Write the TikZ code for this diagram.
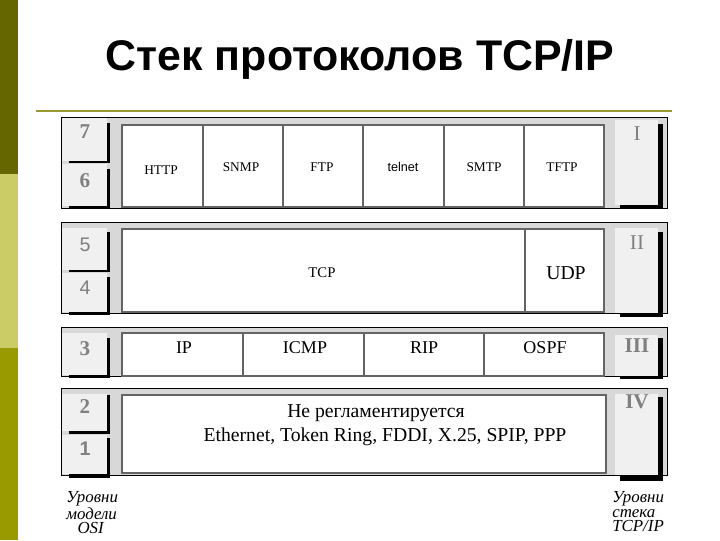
\documentclass[tikz,border=0pt]{standalone}
\usepackage{fontspec}
\setmainfont{Liberation Serif}
\newfontfamily\sansfont{Liberation Sans}
\definecolor{barA}{RGB}{102,102,0}
\definecolor{barB}{RGB}{204,204,102}
\definecolor{barC}{RGB}{153,153,0}
\definecolor{rulecol}{RGB}{153,153,51}
\definecolor{blockgray}{RGB}{216,216,216}
\definecolor{cellgray}{RGB}{240,240,240}
\definecolor{numgray}{RGB}{128,128,128}
\definecolor{protoline}{RGB}{100,100,100}

\begin{document}
\begin{tikzpicture}[x=0.025cm,y=-0.025cm]
		\tikzstyle{every node}+=[inner sep=0pt]
		\tikzstyle{blockbox}=[fill=blockgray,draw=black,line width=0.7pt]
		\tikzstyle{numcell}=[fill=cellgray]
		\tikzstyle{dropbar}=[fill=black]
		\tikzstyle{protobox}=[fill=white,draw=protoline,line width=1.1pt]
		\tikzstyle{numtext}=[text=numgray,font=\fontsize{15}{15}\selectfont\bfseries]
		\tikzstyle{numsans}=[text=numgray,font=\sansfont\fontsize{14}{14}\selectfont]
		\tikzstyle{romantext}=[text=numgray,font=\fontsize{15}{15}\selectfont]
		\tikzstyle{smalllbl}=[font=\fontsize{9.5}{10}\selectfont]
		\tikzstyle{midlbl}=[font=\fontsize{12.8}{13}\selectfont]
		\tikzstyle{biglbl}=[font=\fontsize{14}{14}\selectfont]
		\tikzstyle{footlbl}=[font=\itshape\fontsize{12}{10.5}\selectfont,align=left,anchor=north west]
		\useasboundingbox (0,0) rectangle (720,540);
		\fill [white] (0,0) rectangle (720,540);
		\fill [barA] (0,0) rectangle (18,174);
		\fill [barB] (0,174) rectangle (18,348);
		\fill [barC] (0,348) rectangle (18,540);
		\node [font=\sansfont\bfseries\fontsize{30.5}{32}\selectfont,anchor=base] (title) at (360,70) {Стек протоколов TCP/IP};
		\draw [rulecol,line width=1.8pt] (36,111) -- (672,111);
		\draw [blockbox] (61,117) rectangle (667,208);
		\fill [dropbar] (69,123) rectangle (110,163);
		\fill [numcell] (62,118) rectangle (107,161);
		\fill [dropbar] (69,169) rectangle (110,209);
		\fill [numcell] (62,164) rectangle (107,206);
		\fill [dropbar] (620,124) rectangle (663,208);
		\fill [numcell] (615,120) rectangle (658,205);
		\draw [protobox] (122,125) rectangle (203,207);
		\draw [protobox] (203,125) rectangle (283,207);
		\draw [protobox] (283,125) rectangle (363,207);
		\draw [protobox] (363,125) rectangle (444,207);
		\draw [protobox] (444,125) rectangle (524,207);
		\draw [protobox] (524,125) rectangle (604,207);
		\node [numtext] (n7) at (85,132) {7};
		\node [numtext] (n6) at (85,181) {6};
		\node [romantext] (r1) at (637,134) {I};
		\node [smalllbl] (http) at (161,170) {HTTP};
		\node [smalllbl] (snmp) at (241,167) {SNMP};
		\node [smalllbl] (ftp) at (322,167) {FTP};
		\node [smalllbl,font=\sansfont\fontsize{9}{10}\selectfont] (telnet) at (403,167) {telnet};
		\node [smalllbl] (smtp) at (484,167) {SMTP};
		\node [smalllbl] (tftp) at (562,167) {TFTP};
		\draw [blockbox] (61,222) rectangle (667,313);
		\fill [dropbar] (69,232) rectangle (110,272);
		\fill [numcell] (62,228) rectangle (107,270);
		\fill [dropbar] (69,277) rectangle (110,315);
		\fill [numcell] (62,273) rectangle (107,312);
		\fill [dropbar] (620,232) rectangle (663,317);
		\fill [numcell] (615,228) rectangle (658,313);
		\draw [protobox] (122,229) rectangle (525,312);
		\draw [protobox] (525,229) rectangle (604,312);
		\node [numsans] (n5) at (85,245) {5};
		\node [numsans] (n4) at (85,288) {4};
		\node [romantext] (r2) at (637,243) {II};
		\node [font=\fontsize{10.5}{11}\selectfont] (tcp) at (322,273) {TCP};
		\node [biglbl] (udp) at (566,273) {UDP};
		\draw [blockbox] (61,327) rectangle (667,376);
		\fill [dropbar] (69,338) rectangle (110,378);
		\fill [numcell] (62,333) rectangle (107,375);
		\fill [dropbar] (620,338) rectangle (663,379);
		\fill [numcell] (615,335) rectangle (658,376);
		\draw [protobox] (122,333) rectangle (243,376);
		\draw [protobox] (243,333) rectangle (364,376);
		\draw [protobox] (364,333) rectangle (484,376);
		\draw [protobox] (484,333) rectangle (604,376);
		\node [numtext] (n3) at (85,349) {3};
		\node [romantext,font=\bfseries\fontsize{15}{15}\selectfont] (r3) at (637,346) {III};
		\node [midlbl] (ip) at (184,348) {IP};
		\node [midlbl] (icmp) at (305,348) {ICMP};
		\node [midlbl] (rip) at (424,348) {RIP};
		\node [midlbl] (ospf) at (545,348) {OSPF};
		\draw [blockbox] (61,388) rectangle (667,475);
		\fill [dropbar] (69,395) rectangle (110,434);
		\fill [numcell] (62,394) rectangle (107,431);
		\fill [dropbar] (69,438) rectangle (110,478);
		\fill [numcell] (62,435) rectangle (107,474);
		\fill [dropbar] (620,397) rectangle (663,481);
		\fill [numcell] (615,394) rectangle (658,475);
		\draw [protobox] (122,395) rectangle (606,473);
		\node [numtext] (n2) at (85,407) {2};
		\node [numsans,font=\sansfont\bfseries\fontsize{14}{14}\selectfont] (n1) at (85,449) {1};
		\node [romantext,font=\bfseries\fontsize{15}{15}\selectfont] (r4) at (637,402) {IV};
		\node [biglbl] (free) at (376,413) {Не регламентируется};
		\node [biglbl] (links) at (385,437) {Ethernet, Token Ring, FDDI, X.25, SPIP, PPP};
		\node [footlbl] (osi) at (66,491) {Уровни\\модели\\\hspace{8pt}OSI};
		\node [footlbl] (stack) at (612,491) {Уровни\\стека\\TCP/IP};
		\end{tikzpicture}
\end{document}
